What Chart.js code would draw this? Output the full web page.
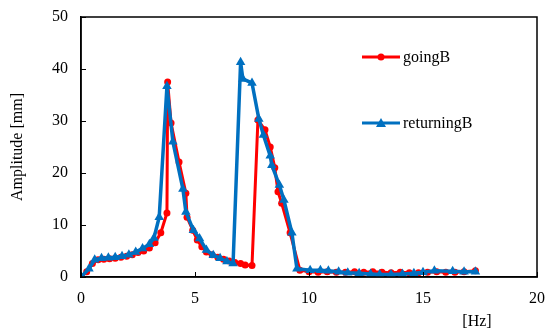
<!DOCTYPE html>
<html>
<head>
<meta charset="utf-8">
<script src="https://cdn.jsdelivr.net/npm/chart.js@4"></script>
<style>
  html, body { margin: 0; padding: 0; background: #fff; }
  #wrap { width: 546px; height: 332px; }
</style>
</head>
<body>
<div id="wrap"><canvas id="chart"></canvas></div>
<script>
// going sweep (red)
const goingHz  = [0, 0.25, 0.5, 0.75, 1.0, 1.25, 1.5, 1.75, 2.0, 2.25, 2.5, 2.75, 3.0, 3.25, 3.5, 3.77, 3.8, 3.95, 4.3, 4.6, 4.65, 4.9, 5.1, 5.3, 5.5, 5.75, 6.0, 6.25, 6.5, 6.75, 7.0, 7.2, 7.5, 7.76, 8.07, 8.3, 8.5, 8.64, 8.8, 9.17, 9.6, 10.0, 10.4, 10.8, 11.2, 11.6, 12.0, 12.4, 12.8, 13.2, 13.6, 14.0, 14.4, 14.8, 15.2, 15.6, 16.0, 16.4, 16.8, 17.3];
const goingAmp = [0, 1.0, 2.6, 3.3, 3.4, 3.5, 3.6, 3.8, 4.0, 4.3, 4.7, 5.0, 5.6, 6.6, 8.5, 12.3, 37.5, 29.6, 22.1, 16.1, 11.5, 9.0, 7.1, 5.8, 4.8, 4.3, 3.8, 3.4, 3.1, 2.8, 2.6, 2.3, 2.2, 30.2, 28.3, 25.0, 21.0, 16.4, 14.2, 8.5, 1.3, 1.0, 0.9, 1.0, 0.9, 0.9, 1.0, 0.9, 1.0, 0.9, 0.8, 0.9, 0.8, 0.8, 0.9, 1.0, 0.9, 0.9, 1.0, 1.2];

// returning sweep (blue)
const returnHz  = [0, 0.35, 0.6, 0.9, 1.2, 1.5, 1.8, 2.1, 2.4, 2.7, 3.0, 3.2, 3.43, 3.77, 4.03, 4.47, 4.6, 4.93, 5.2, 5.5, 5.8, 6.1, 6.4, 6.67, 7.0, 7.1, 7.5, 7.8, 8.0, 8.3, 8.37, 8.7, 8.9, 9.25, 9.47, 10.05, 10.5, 10.85, 11.3, 11.7, 12.2, 12.7, 13.1, 13.6, 14.1, 14.6, 15.0, 15.5, 16.3, 16.8, 17.3];
const returnAmp = [0, 1.6, 3.3, 3.6, 3.7, 3.8, 4.0, 4.3, 4.8, 5.5, 6.3, 7.5, 11.5, 36.7, 26.0, 16.9, 12.5, 9.0, 7.4, 5.2, 4.2, 3.6, 3.0, 2.6, 41.3, 38.1, 37.3, 30.4, 27.3, 23.3, 21.5, 17.7, 14.8, 8.5, 1.6, 1.3, 1.3, 1.2, 1.0, 0.8, 0.7, 0.6, 0.5, 0.5, 0.6, 0.7, 0.9, 1.2, 1.1, 1.0, 1.0];

const xTicks = [0, 5, 10, 15, 20];
const yTicks = [0, 10, 20, 30, 40, 50];

const serif = "'Liberation Serif', 'DejaVu Serif', serif";

function pairs(xs, ys) {
  return xs.map((x, i) => ({ x: x, y: ys[i] }));
}

// frame, inner ticks, legend and the [Hz] label
const decor = {
  id: 'decor',
  afterDraw(chart) {
    const ctx = chart.ctx;
    const a = chart.chartArea;
    const xs = chart.scales.x, ys = chart.scales.y;
    ctx.save();
    ctx.strokeStyle = '#000';
    ctx.lineWidth = 1.5;
    ctx.strokeRect(a.left, a.top, a.right - a.left, a.bottom - a.top);
    ctx.lineWidth = 1;
    ctx.beginPath();
    yTicks.forEach(v => {
      const py = Math.round(ys.getPixelForValue(v)) + 0.5;
      ctx.moveTo(a.left, py); ctx.lineTo(a.left + 5, py);
    });
    xTicks.forEach(v => {
      const px = Math.round(xs.getPixelForValue(v)) + 0.5;
      ctx.moveTo(px, a.bottom); ctx.lineTo(px, a.bottom - 5);
    });
    ctx.stroke();

    // legend
    const items = chart.data.datasets;
    const rows = [57, 123];
    ctx.font = '16px ' + serif;
    ctx.textBaseline = 'middle';
    items.forEach((ds, i) => {
      const y = rows[i];
      ctx.strokeStyle = ds.borderColor;
      ctx.lineWidth = 3;
      ctx.beginPath();
      ctx.moveTo(362, y); ctx.lineTo(400, y);
      ctx.stroke();
      ctx.fillStyle = ds.borderColor;
      ctx.beginPath();
      if (ds.pointStyle === 'triangle') {
        ctx.moveTo(381, y - 5); ctx.lineTo(386, y + 4); ctx.lineTo(376, y + 4); ctx.closePath();
      } else {
        ctx.arc(381, y, 3.5, 0, Math.PI * 2);
      }
      ctx.fill();
      ctx.fillStyle = '#000';
      ctx.textAlign = 'left';
      ctx.fillText(ds.label, 403, y + 1);
    });

    ctx.font = '16px ' + serif;
    ctx.textAlign = 'center';
    ctx.fillText('[Hz]', 477, 322);
    ctx.restore();
  }
};

new Chart(document.getElementById('chart'), {
  type: 'line',
  data: {
    datasets: [
      {
        label: 'goingB',
        data: pairs(goingHz, goingAmp),
        borderColor: '#FF0000',
        backgroundColor: '#FF0000',
        borderWidth: 3,
        pointStyle: 'circle',
        pointRadius: 3.5,
        pointBorderWidth: 0,
        tension: 0,
        order: 2
      },
      {
        label: 'returningB',
        data: pairs(returnHz, returnAmp),
        borderColor: '#0070C0',
        backgroundColor: '#0070C0',
        borderWidth: 3.5,
        pointStyle: 'triangle',
        pointRadius: 5.5,
        pointBorderWidth: 0,
        tension: 0,
        order: 1
      }
    ]
  },
  options: {
    responsive: true,
    maintainAspectRatio: false,
    animation: false,
    layout: { padding: { left: 0, right: 9, top: 17, bottom: 0 } },
    plugins: {
      legend: { display: false },
      tooltip: { enabled: false }
    },
    scales: {
      x: {
        type: 'linear',
        min: 0, max: 20,
        afterBuildTicks: s => { s.ticks = xTicks.map(v => ({ value: v })); },
        afterFit: s => { s.height = 55; s.paddingLeft = 0; s.paddingRight = 0; },
        grid: { display: false, drawTicks: false },
        border: { display: true, color: '#000', width: 1.5 },
        ticks: { color: '#000', padding: 12, font: { family: serif, size: 16 } }
      },
      y: {
        min: 0, max: 50,
        afterBuildTicks: s => { s.ticks = yTicks.map(v => ({ value: v })); },
        afterFit: s => { s.width = 81; s.paddingTop = 0; s.paddingBottom = 0; },
        grid: { display: false, drawTicks: false },
        border: { display: true, color: '#000', width: 1.5 },
        ticks: { color: '#000', padding: 13, font: { family: serif, size: 16 } },
        title: {
          display: true,
          text: 'Amplitude [mm]',
          color: '#000',
          font: { family: serif, size: 16 },
          padding: { top: 8, bottom: 0 }
        }
      }
    }
  },
  plugins: [decor]
});
</script>
</body>
</html>
